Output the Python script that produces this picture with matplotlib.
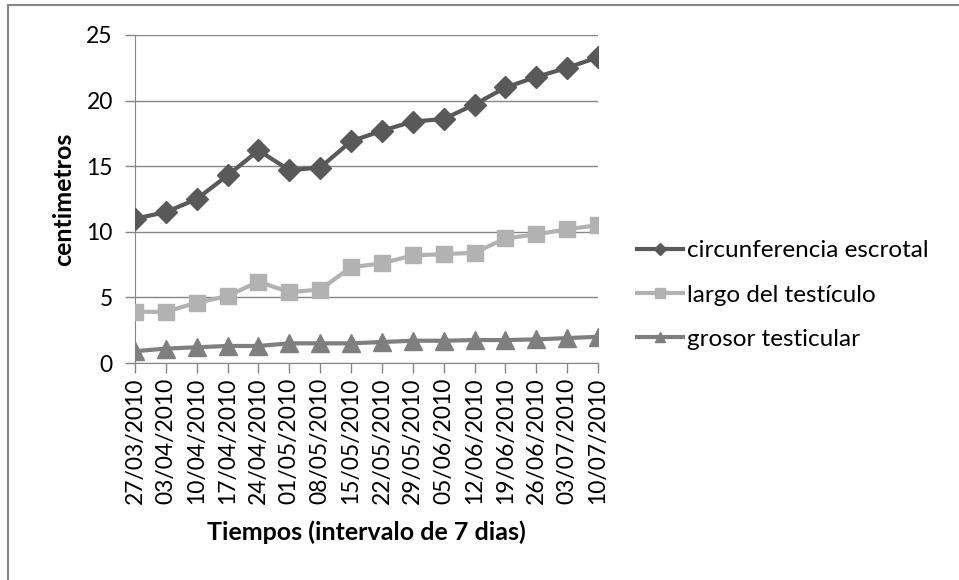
import matplotlib.pyplot as plt
from matplotlib.patches import Rectangle

plt.rcParams['font.family'] = ['Lato', 'DejaVu Sans']

fechas = ['27/03/2010', '03/04/2010', '10/04/2010', '17/04/2010', '24/04/2010',
          '01/05/2010', '08/05/2010', '15/05/2010', '22/05/2010', '29/05/2010',
          '05/06/2010', '12/06/2010', '19/06/2010', '26/06/2010', '03/07/2010',
          '10/07/2010']
circunferencia = [11.0, 11.5, 12.5, 14.3, 16.2, 14.7, 14.9, 16.9, 17.7, 18.4,
                  18.6, 19.7, 21.0, 21.8, 22.5, 23.3]
largo = [3.9, 3.9, 4.6, 5.1, 6.2, 5.4, 5.6, 7.3, 7.6, 8.2,
         8.3, 8.4, 9.5, 9.8, 10.2, 10.5]
grosor = [0.9, 1.1, 1.2, 1.3, 1.3, 1.5, 1.5, 1.5, 1.6, 1.7,
          1.7, 1.75, 1.75, 1.8, 1.9, 2.0]

grid_col = '#868686'

fig = plt.figure(figsize=(9.59, 5.80), dpi=100)
ax = fig.add_axes([0.1408, 0.3741, 0.4828, 0.5656])

x = range(len(fechas))
ax.plot(x, circunferencia, color='#595959', lw=3, marker='D', ms=11,
        label='circunferencia escrotal', zorder=5)
ax.plot(x, largo, color='#b2b2b2', lw=3, marker='s', ms=12,
        label='largo del testículo', zorder=4)
ax.plot(x, grosor, color='#7f7f7f', lw=3, marker='^', ms=13,
        label='grosor testicular', zorder=3)

ax.set_xlim(0, len(fechas) - 1)
ax.set_ylim(0, 25)
ax.set_yticks(range(0, 26, 5))
ax.set_xticks(list(x))
ax.set_xticklabels(fechas, rotation=90)
ax.yaxis.grid(True, color=grid_col, lw=1)
ax.set_axisbelow(True)
for s in ['top', 'right']:
    ax.spines[s].set_visible(False)
for s in ['left', 'bottom']:
    ax.spines[s].set_color(grid_col)
ax.tick_params(axis='both', colors=grid_col, length=7, width=1,
               labelsize=16.5, labelcolor='black')
ax.tick_params(axis='y', pad=9)

ax.set_ylabel('centimetros', fontsize=18, fontweight='bold', labelpad=8)
ax.set_xlabel('Tiempos (intervalo de 7 dias)', fontsize=18, fontweight='bold',
              labelpad=12)

ax.legend(loc='center left', bbox_to_anchor=(637 / 959, 1 - 295 / 580),
          bbox_transform=fig.transFigure, frameon=False, borderpad=0,
          borderaxespad=0, fontsize=17.5, handlelength=1.9,
          handletextpad=0.15, labelspacing=0.95, markerscale=0.6)

# chart border
fig.patches.append(Rectangle((8 / 959, -0.1), 1.2, 1 - 5 / 580 + 0.1,
                             transform=fig.transFigure, fill=False,
                             edgecolor=grid_col, lw=1.5))

fig.savefig('out.png', dpi=100)
